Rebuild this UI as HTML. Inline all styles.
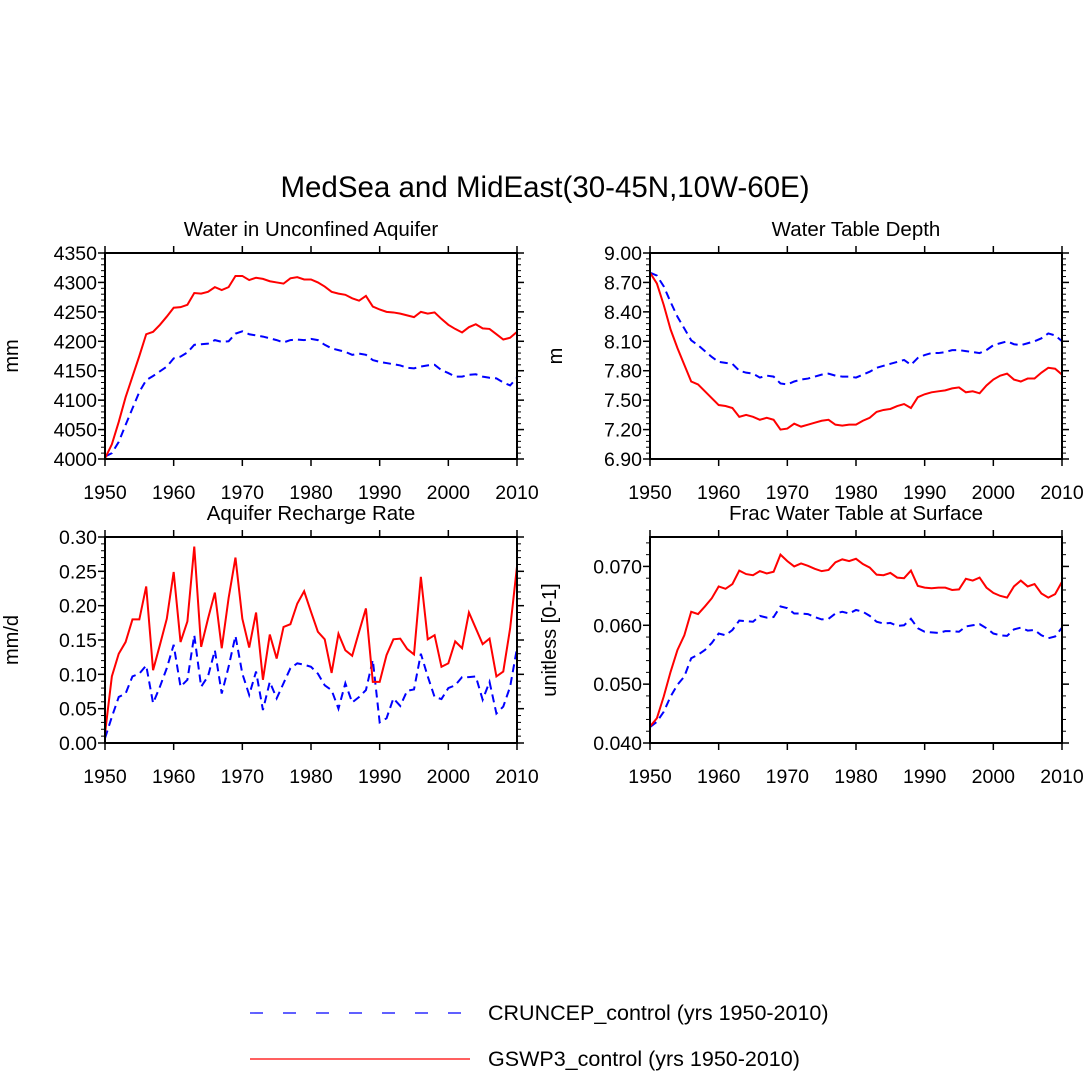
<!DOCTYPE html>
<html><head><meta charset="utf-8">
<style>
html,body{margin:0;padding:0;background:#fff;}
svg{display:block;font-family:"Liberation Sans",sans-serif;}
</style></head>
<body>
<svg id="chart" width="1090" height="1092" viewBox="0 0 1090 1092" xmlns="http://www.w3.org/2000/svg">
<text x="545" y="197" font-size="29.5" text-anchor="middle">MedSea and MidEast(30-45N,10W-60E)</text>
<g>
<line x1="250" y1="1013" x2="470" y2="1013" stroke="#00f" stroke-width="1.2" stroke-dasharray="13,20"/>
<text x="488" y="1020" font-size="21.5">CRUNCEP_control (yrs 1950-2010)</text>
<line x1="250" y1="1059" x2="470" y2="1059" stroke="#f00" stroke-width="1.2"/>
<text x="488" y="1066" font-size="21.5">GSWP3_control (yrs 1950-2010)</text>
</g>
</svg>
<script>
const years = [];
for (let y = 1950; y <= 2010; y++) years.push(y);
const xTicks = [1950,1960,1970,1980,1990,2000,2010];

const aqRed = [4001,4025,4063,4105,4140,4175,4212,4216,4228,4242,4257,4258,4262,4282,4281,4284,4292,4287,4292,4311,4311,4304,4308,4306,4302,4300,4298,4307,4309,4305,4305,4300,4293,4284,4281,4279,4273,4269,4277,4259,4254,4250,4249,4247,4244,4241,4250,4247,4249,4238,4228,4221,4215,4224,4229,4222,4221,4212,4203,4206,4216];
const aqBlue = [4004,4010,4029,4058,4086,4114,4134,4141,4149,4157,4171,4174,4181,4194,4195,4196,4202,4199,4200,4213,4217,4212,4210,4208,4205,4202,4198,4202,4203,4202,4204,4202,4194,4188,4185,4182,4177,4179,4177,4168,4165,4163,4161,4159,4155,4154,4157,4159,4160,4151,4146,4140,4140,4143,4144,4140,4138,4137,4130,4125,4138];
const aqTicks = [4000,4050,4100,4150,4200,4250,4300,4350];

const wtRed = [8.80,8.69,8.47,8.22,8.03,7.86,7.69,7.66,7.59,7.52,7.45,7.44,7.42,7.33,7.35,7.33,7.30,7.32,7.30,7.20,7.21,7.26,7.23,7.25,7.27,7.29,7.30,7.25,7.24,7.25,7.25,7.29,7.32,7.38,7.40,7.41,7.44,7.46,7.42,7.53,7.56,7.58,7.59,7.60,7.62,7.63,7.58,7.59,7.57,7.65,7.71,7.75,7.77,7.71,7.69,7.72,7.72,7.78,7.83,7.82,7.76];
const wtBlue = [8.80,8.77,8.66,8.50,8.35,8.23,8.11,8.06,8.00,7.94,7.89,7.88,7.87,7.80,7.78,7.77,7.73,7.75,7.74,7.67,7.66,7.69,7.71,7.72,7.74,7.76,7.77,7.75,7.74,7.74,7.73,7.76,7.79,7.83,7.85,7.87,7.89,7.91,7.86,7.93,7.96,7.98,7.98,7.99,8.01,8.01,8.00,7.99,7.98,8.01,8.06,8.08,8.10,8.07,8.06,8.08,8.10,8.13,8.18,8.16,8.10];
const wtTicks = [6.90,7.20,7.50,7.80,8.10,8.40,8.70,9.00];

const rcRed = [0.014,0.097,0.130,0.147,0.180,0.180,0.228,0.106,0.143,0.181,0.249,0.147,0.177,0.286,0.140,0.181,0.219,0.138,0.211,0.270,0.181,0.139,0.190,0.092,0.158,0.123,0.169,0.173,0.203,0.221,0.191,0.162,0.151,0.102,0.159,0.135,0.127,0.162,0.196,0.089,0.089,0.128,0.151,0.152,0.137,0.129,0.242,0.151,0.157,0.111,0.116,0.148,0.138,0.190,0.167,0.144,0.152,0.097,0.104,0.167,0.257];
const rcBlue = [0.007,0.038,0.067,0.072,0.097,0.101,0.113,0.058,0.082,0.109,0.143,0.082,0.092,0.157,0.082,0.097,0.135,0.072,0.111,0.156,0.101,0.070,0.104,0.048,0.089,0.065,0.087,0.109,0.116,0.114,0.111,0.101,0.084,0.077,0.050,0.087,0.059,0.067,0.077,0.121,0.030,0.036,0.065,0.054,0.076,0.078,0.130,0.097,0.067,0.064,0.080,0.084,0.096,0.096,0.097,0.063,0.089,0.043,0.053,0.082,0.138];
const rcTicks = [0,0.05,0.10,0.15,0.20,0.25,0.30];

const frRed = [0.0428,0.0442,0.0479,0.0521,0.0558,0.0583,0.0623,0.0619,0.0632,0.0646,0.0666,0.0662,0.0670,0.0693,0.0687,0.0685,0.0692,0.0688,0.0691,0.0720,0.0709,0.0700,0.0705,0.0701,0.0696,0.0692,0.0694,0.0707,0.0712,0.0709,0.0713,0.0704,0.0698,0.0686,0.0685,0.0689,0.0681,0.0680,0.0693,0.0667,0.0664,0.0663,0.0664,0.0664,0.0660,0.0661,0.0679,0.0676,0.0681,0.0664,0.0655,0.0650,0.0647,0.0666,0.0676,0.0666,0.0670,0.0654,0.0647,0.0653,0.0674];
const frBlue = [0.0427,0.0436,0.0453,0.0479,0.0499,0.0513,0.0544,0.0550,0.0558,0.0570,0.0586,0.0583,0.0592,0.0608,0.0607,0.0606,0.0616,0.0613,0.0614,0.0632,0.0629,0.0620,0.0620,0.0619,0.0614,0.0610,0.0611,0.0620,0.0623,0.0620,0.0626,0.0623,0.0616,0.0606,0.0603,0.0604,0.0599,0.0600,0.0611,0.0595,0.0589,0.0588,0.0587,0.0590,0.0590,0.0589,0.0598,0.0600,0.0602,0.0595,0.0586,0.0583,0.0582,0.0593,0.0596,0.0591,0.0592,0.0583,0.0578,0.0581,0.0596];
const frTicks = [0.040,0.050,0.060,0.070];

const NS = "http://www.w3.org/2000/svg";
const svg = document.getElementById('chart');
function mk(tag, attrs, parent) {
  const e = document.createElementNS(NS, tag);
  for (const k in attrs) e.setAttribute(k, attrs[k]);
  (parent || svg).appendChild(e);
  return e;
}

function panel(o) {
  const g = mk('g', {});
  
  
  const L = o.x, R = o.x + 412, T = o.y, B = o.y + 206;
  const xs = v => L + (v - 1950) / 60 * (R - L);
  const ys = v => B - (v - o.ymin) / (o.ymax - o.ymin) * (B - T);
  const nMin = Math.round((o.ymax - o.ymin) / o.minor);
  for (let i = 0; i <= nMin; i++) {
    const yy = ys(o.ymin + i * o.minor);
    const t1 = mk('line', {x1: L - 4, x2: L, y1: yy, y2: yy, stroke: '#000', 'stroke-width': 1}, g);
    
    
    const t2 = mk('line', {x1: R, x2: R + 4, y1: yy, y2: yy, stroke: '#000', 'stroke-width': 1}, g);
    
    
  }
  o.yticks.forEach(v => {
    const yy = ys(v);
    const t1 = mk('line', {x1: L - 7, x2: L, y1: yy, y2: yy, stroke: '#000', 'stroke-width': 1.5}, g);
    
    
    const t2 = mk('line', {x1: R, x2: R + 7, y1: yy, y2: yy, stroke: '#000', 'stroke-width': 1.5}, g);
    
    
    const tx = mk('text', {x: L - 8, y: yy + 7, 'font-size': 19.5, 'text-anchor': 'end'}, g);
    
    
    tx.textContent = v.toFixed(o.dec);
  });
  xTicks.forEach(v => {
    const xx = xs(v);
    const t1 = mk('line', {x1: xx, x2: xx, y1: B, y2: B + 7, stroke: '#000', 'stroke-width': 1.5}, g);
    
    
    const t2 = mk('line', {x1: xx, x2: xx, y1: T - 7, y2: T, stroke: '#000', 'stroke-width': 1.5}, g);
    
    
    const tx = mk('text', {x: xx, y: B + 40, 'font-size': 19.5, 'text-anchor': 'middle'}, g);
    
    
    tx.textContent = v;
  });
  const blue = mk('polyline', {points: years.map((yr, i) => xs(yr) + ',' + ys(o.blue[i])).join(' '), fill: 'none', stroke: '#00f', 'stroke-width': 2, 'stroke-dasharray': '8,5'}, g);
  
  
  const red = mk('polyline', {points: years.map((yr, i) => xs(yr) + ',' + ys(o.red[i])).join(' '), fill: 'none', stroke: '#f00', 'stroke-width': 2}, g);
  
  
  const fr = mk('rect', {x: L, y: T, width: R - L, height: B - T, fill: 'none', stroke: '#000', 'stroke-width': 2}, g);
  
  
  const tt = mk('text', {x: (L + R) / 2, y: T - 17, 'font-size': 20.5, 'text-anchor': 'middle'}, g);
  
  
  tt.textContent = o.title;
  const yt = mk('text', {x: 0, y: 0, 'font-size': 20, 'text-anchor': 'middle', transform: 'translate(' + o.ytx + ',' + ((T + B) / 2) + ') rotate(-90)'}, g);
  
  
  yt.textContent = o.ytitle;
}

panel({name: 'panel-water-aquifer', x: 105, y: 253, ymin: 4000, ymax: 4350, minor: 10, yticks: aqTicks, dec: 0, red: aqRed, blue: aqBlue, title: 'Water in Unconfined Aquifer', ytitle: 'mm', ytx: 18});
panel({name: 'panel-water-table-depth', x: 650, y: 253, ymin: 6.9, ymax: 9.0, minor: 0.06, yticks: wtTicks, dec: 2, red: wtRed, blue: wtBlue, title: 'Water Table Depth', ytitle: 'm', ytx: 562});
panel({name: 'panel-recharge-rate', x: 105, y: 537, ymin: 0, ymax: 0.30, minor: 0.01, yticks: rcTicks, dec: 2, red: rcRed, blue: rcBlue, title: 'Aquifer Recharge Rate', ytitle: 'mm/d', ytx: 18});
panel({name: 'panel-frac-water-table', x: 650, y: 537, ymin: 0.040, ymax: 0.075, minor: 0.002, yticks: frTicks, dec: 3, red: frRed, blue: frBlue, title: 'Frac Water Table at Surface', ytitle: 'unitless [0-1]', ytx: 556});
</script>
</body></html>
